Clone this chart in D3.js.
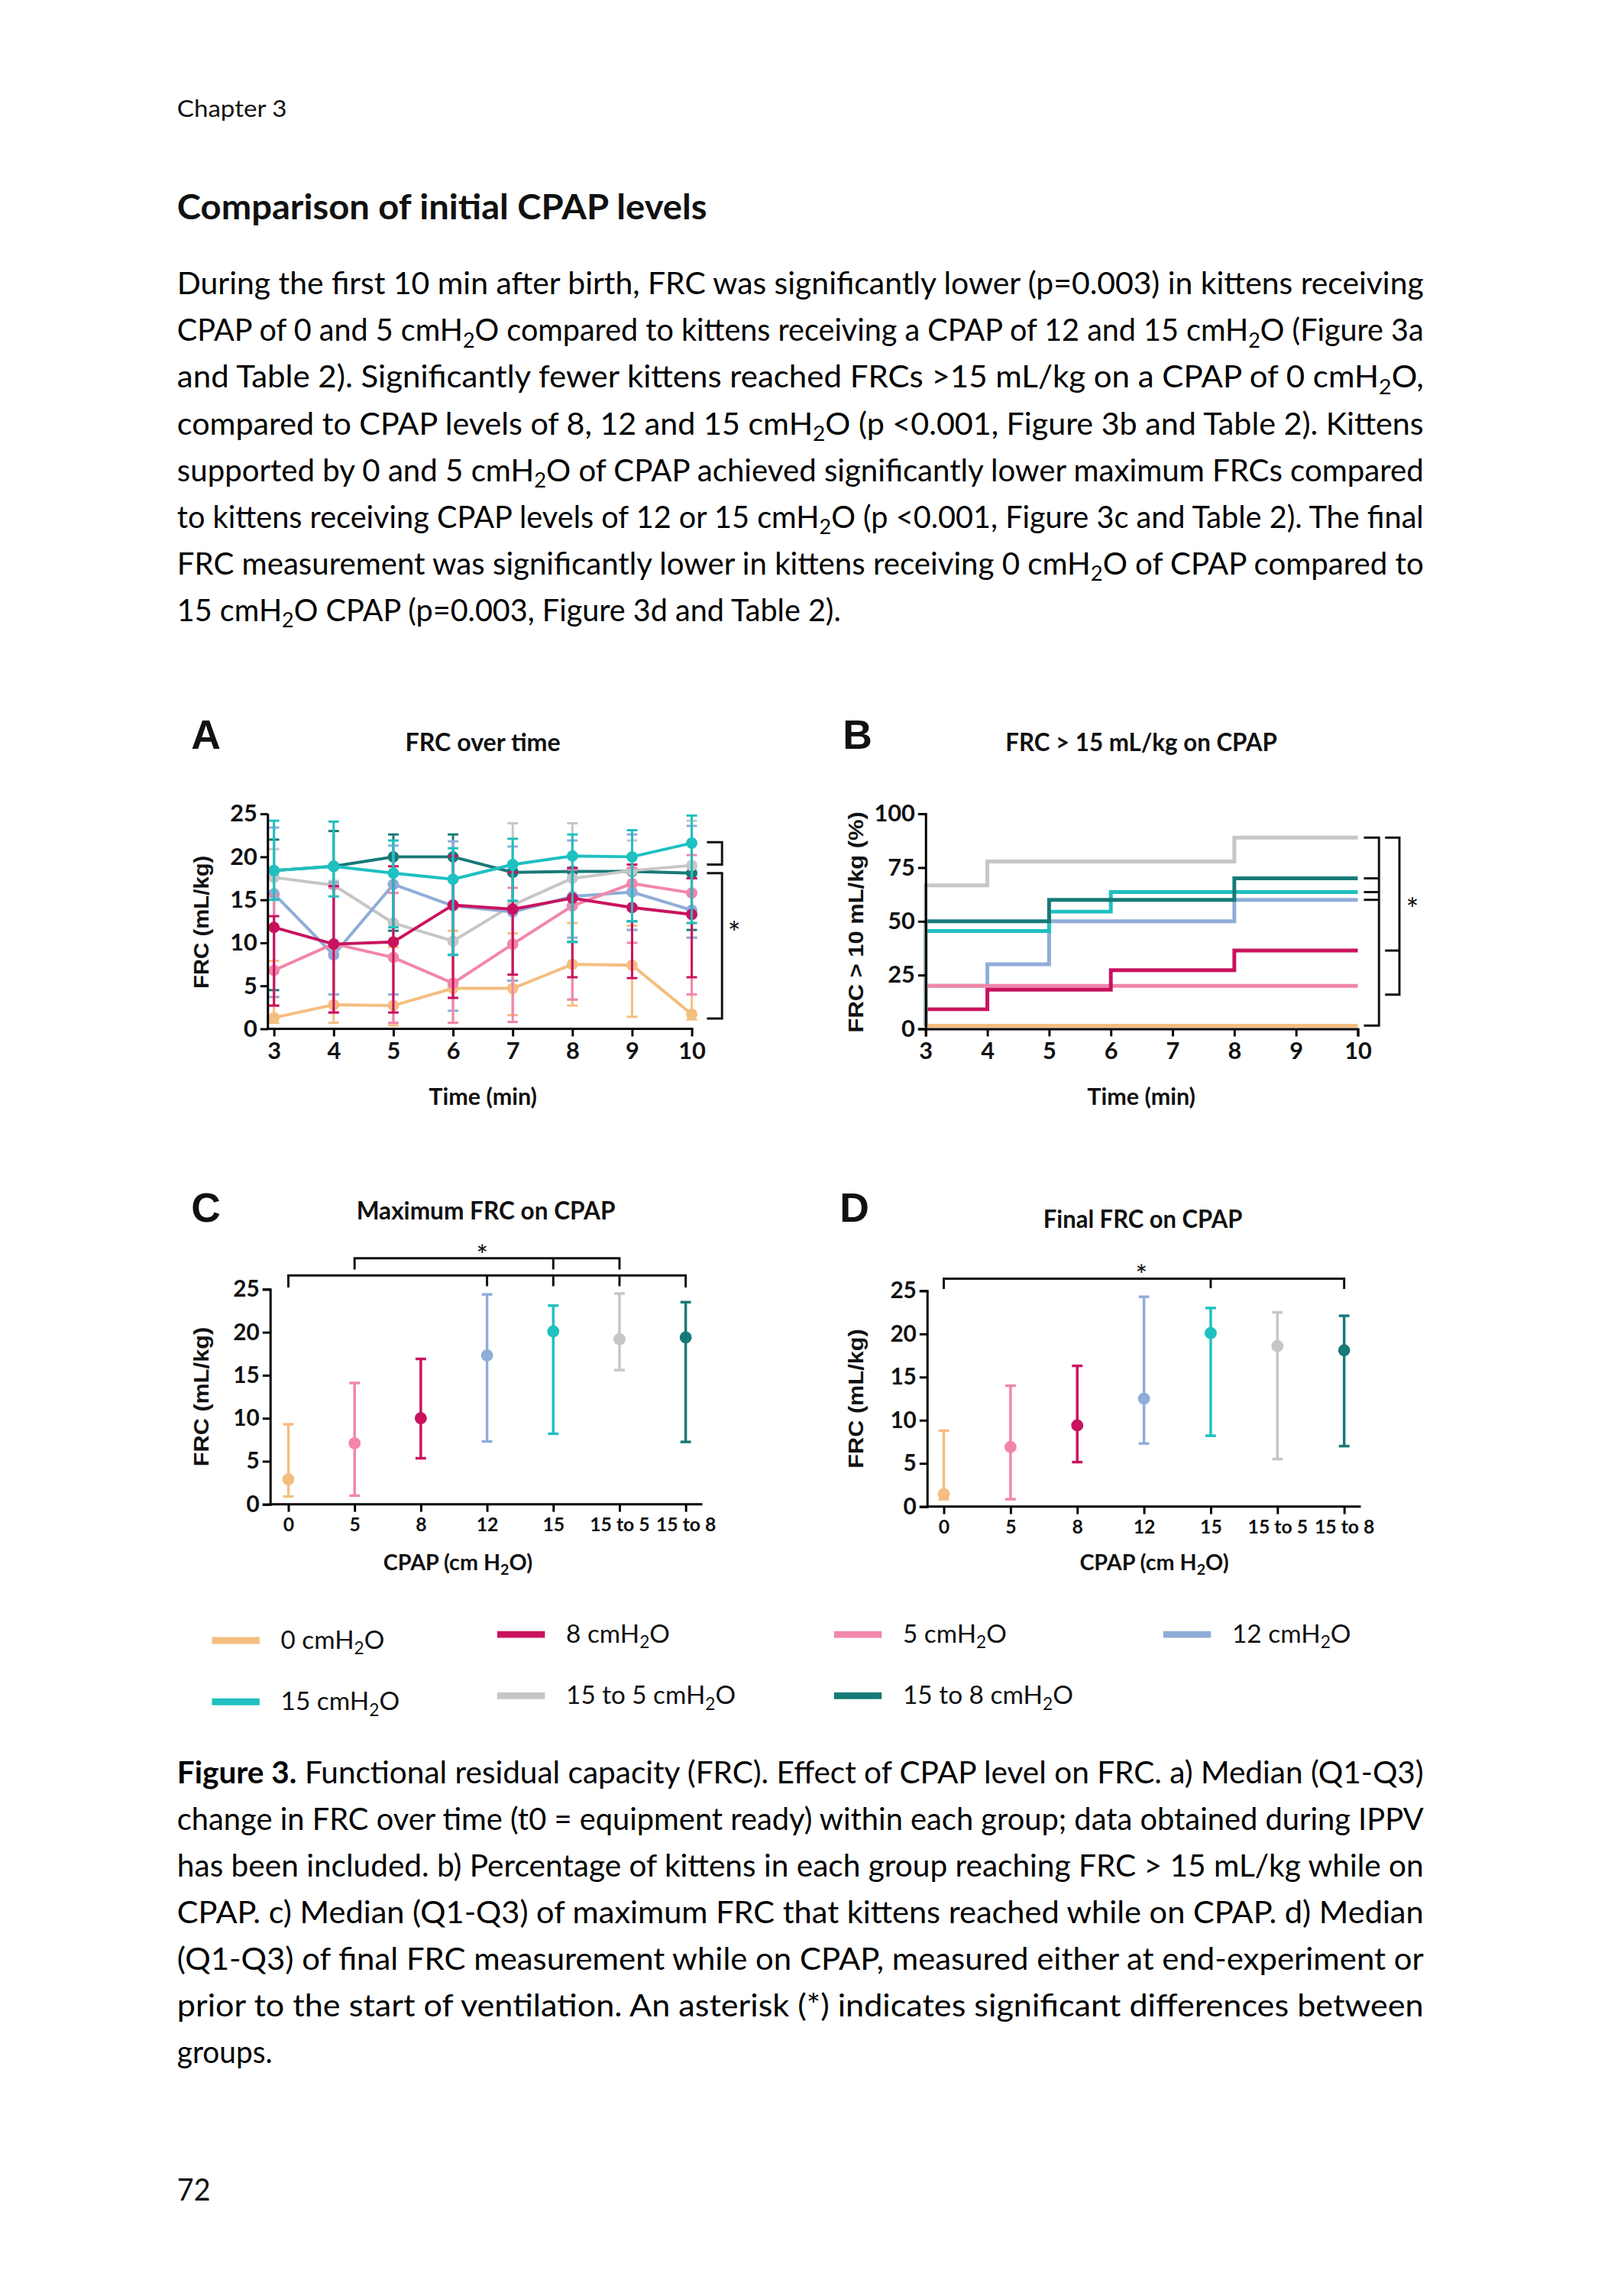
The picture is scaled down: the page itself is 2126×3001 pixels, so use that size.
<!DOCTYPE html>
<html><head><meta charset="utf-8">
<script src="https://cdn.jsdelivr.net/npm/d3@7/dist/d3.min.js"></script>
<style>html,body{margin:0;padding:0;background:#fff}svg{display:block}text{white-space:pre}</style>
</head><body>
<svg id="page" width="2126" height="3001"></svg>
<script>
// ---------------- DATA ----------------
const groupNames = ["0 cmH₂O", "5 cmH₂O", "8 cmH₂O", "12 cmH₂O", "15 cmH₂O", "15 to 5 cmH₂O", "15 to 8 cmH₂O"];
const groupColors = ["#F4BE80", "#F286AA", "#C9125F", "#8FADD7", "#1FC0C0", "#C6C6C6", "#177A78"];
const categoryLabels = ["0", "5", "8", "12", "15", "15 to 5", "15 to 8"];

// Panel A: FRC over time (median, Q1, Q3) per group
const timeMin = [3, 4, 5, 6, 7, 8, 9, 10];
const aMed0   = [1.3, 2.8, 2.7, 4.7, 4.7, 7.5, 7.4, 1.7];
const aMed5   = [6.8, 9.9, 8.3, 5.3, 9.85, 14.3, 16.9, 15.8];
const aMed8   = [11.8, 9.85, 10.1, 14.4, 13.9, 15.2, 14.1, 13.3];
const aMed12  = [15.7, 8.6, 16.8, 14.3, 13.6, 15.4, 15.9, 13.8];
const aMed15  = [18.4, 18.9, 18.1, 17.4, 19.1, 20.1, 20.0, 21.6];
const aMed155 = [17.6, 16.7, 12.3, 10.2, 14.4, 17.5, 18.4, 19.0];
const aMed158 = [18.4, 18.9, 20.0, 20.0, 18.2, 18.3, 18.3, 18.1];
const aQ1_0   = [0.7, 0.7, 0.4, 0.7, 1.6, 2.7, 1.4, 1.1];
const aQ3_0   = [7.9, 9.5, 9.5, 11.4, 11.1, 12.3, 12.0, 12.3];
const aQ1_5   = [2.7, 1.9, 0.7, 0.7, 0.8, 3.4, 10.0, 4.0];
const aQ3_5   = [15.5, 16.4, 15.8, 14.0, 16.4, 18.5, 18.7, 20.2];
const aQ1_8   = [2.7, 1.9, 1.9, 3.6, 6.3, 6.0, 5.9, 6.0];
const aQ3_8   = [13.1, 16.6, 18.9, 20.1, 18.2, 18.7, 19.1, 17.5];
const aQ1_12  = [3.7, 4.0, 4.0, 2.1, 5.6, 10.6, 11.5, 10.6];
const aQ3_12  = [23.4, 17.0, 21.3, 21.8, 21.2, 21.9, 22.6, 23.6];
const aQ1_15  = [15.0, 15.4, 11.8, 8.6, 14.9, 10.1, 12.5, 12.3];
const aQ3_15  = [24.2, 24.1, 21.9, 21.0, 22.1, 22.6, 23.1, 24.8];
const aQ1_155 = [3.7, 3.0, 4.0, 3.6, 1.6, 3.4, 11.5, 10.6];
const aQ3_155 = [20.9, 17.2, 15.8, 14.5, 23.9, 23.9, 21.9, 24.2];
const aQ1_158 = [4.5, 4.0, 11.4, 8.6, 5.6, 10.1, 12.5, 11.5];
const aQ3_158 = [22.0, 23.0, 22.6, 22.6, 18.5, 18.7, 18.5, 17.5];
const aYTicks = [0, 5, 10, 15, 20, 25];

// Panel B: % of kittens with FRC > 15 mL/kg (step changes: [time, percent])
const b0   = [[3, 0], [10, 0]];
const b5   = [[3, 20], [10, 20]];
const b8   = [[3, 9.1], [4, 18.2], [6, 27.3], [8, 36.4], [10, 36.4]];
const b12  = [[3, 20], [4, 30], [5, 50], [8, 60], [10, 60]];
const b15  = [[3, 45.5], [5, 54.5], [6, 63.6], [10, 63.6]];
const b155 = [[3, 66.7], [4, 77.8], [8, 88.9], [10, 88.9]];
const b158 = [[3, 50], [5, 60], [8, 70], [10, 70]];
const bYTicks = [0, 25, 50, 75, 100];

// Panel C: maximum FRC on CPAP (median, Q1, Q3)
const cMedian = [2.9, 7.1, 10.0, 17.3, 20.1, 19.2, 19.4];
const cQ1     = [0.9, 1.0, 5.35, 7.3, 8.2, 15.6, 7.25];
const cQ3     = [9.3, 14.1, 16.9, 24.4, 23.1, 24.5, 23.5];

// Panel D: final FRC on CPAP (median, Q1, Q3)
const dMedian = [1.45, 6.9, 9.4, 12.5, 20.1, 18.6, 18.1];
const dQ1     = [0.85, 0.85, 5.15, 7.3, 8.2, 5.5, 7.0];
const dQ3     = [8.8, 14.0, 16.3, 24.3, 23.0, 22.5, 22.1];

// Text
const paragraphLines = [
  "During the first 10 min after birth, FRC was significantly lower (p=0.003) in kittens receiving",
  "CPAP of 0 and 5 cmH₂O compared to kittens receiving a CPAP of 12 and 15 cmH₂O (Figure 3a",
  "and Table 2). Significantly fewer kittens reached FRCs >15 mL/kg on a CPAP of 0 cmH₂O,",
  "compared to CPAP levels of 8, 12 and 15 cmH₂O (p <0.001, Figure 3b and Table 2). Kittens",
  "supported by 0 and 5 cmH₂O of CPAP achieved significantly lower maximum FRCs compared",
  "to kittens receiving CPAP levels of 12 or 15 cmH₂O (p <0.001, Figure 3c and Table 2). The final",
  "FRC measurement was significantly lower in kittens receiving 0 cmH₂O of CPAP compared to",
  "15 cmH₂O CPAP (p=0.003, Figure 3d and Table 2)."
];
const captionLines = [
  "**Figure 3.** Functional residual capacity (FRC). Effect of CPAP level on FRC. a) Median (Q1-Q3)",
  "change in FRC over time (t0 = equipment ready) within each group; data obtained during IPPV",
  "has been included. b) Percentage of kittens in each group reaching FRC > 15 mL/kg while on",
  "CPAP. c) Median (Q1-Q3) of maximum FRC that kittens reached while on CPAP. d) Median",
  "(Q1-Q3) of final FRC measurement while on CPAP, measured either at end-experiment or",
  "prior to the start of ventilation. An asterisk (*) indicates significant differences between",
  "groups."
];

// ---------------- RENDER ----------------
const BODY = "Lato, 'Open Sans', sans-serif";
const ARIAL = "'Liberation Sans', Arial, sans-serif";
const svg = d3.select("#page").append("g").attr("transform", "scale(0.9908)");

function rich(g, str, x, y, size, opts = {}) {
  const t = g.append("text").attr("x", x).attr("y", y)
    .attr("font-size", size).attr("font-family", opts.family || BODY).attr("fill", opts.fill || "#111");
  if (opts.weight) t.attr("font-weight", opts.weight);
  if (opts.anchor) t.attr("text-anchor", opts.anchor);
  if (opts.transform) t.attr("transform", opts.transform);
  const parts = str.split(/(₂|\*\*[^*]+\*\*)/).filter(s => s !== "");
  const sh = size * 0.22;
  let shifted = false;
  parts.forEach(p => {
    if (p === "₂") {
      t.append("tspan").attr("dy", sh).attr("font-size", size * 0.68).text("2");
      shifted = true;
    } else {
      const ts = t.append("tspan");
      if (shifted) { ts.attr("dy", -sh); shifted = false; }
      if (p.startsWith("**")) ts.attr("font-weight", "bold").text(p.slice(2, -2));
      else ts.text(p);
    }
  });
  if (opts.len) t.attr("textLength", opts.len).attr("lengthAdjust", "spacingAndGlyphs");
  return t;
}

// Header & paragraph
rich(svg, "Chapter 3", 234, 154, 31, {len: 145});
rich(svg, "Comparison of initial CPAP levels", 234, 290, 46, {weight: "bold", len: 700});
const lineH = 61.6;
paragraphLines.forEach((l, i) => {
  const last = i === paragraphLines.length - 1;
  rich(svg, l, 234, 389 + i * lineH, 40, {len: last ? 877 : 1647, fill: "#000"});
});
captionLines.forEach((l, i) => {
  const last = i === captionLines.length - 1;
  rich(svg, l, 234, 2356 + i * 61.5, 40, {len: last ? 126 : 1647, fill: "#000"});
});
rich(svg, "72", 234, 2907, 40, {len: 44});

function styleAxis(g, size) {
  g.selectAll("path,line").attr("stroke", "#000").attr("stroke-width", 3);
  g.selectAll("text").attr("font-family", BODY).attr("font-size", size || 31).attr("font-weight", "bold").attr("fill", "#111");
}

// -------- Panel A --------
const aMeds = [aMed0, aMed5, aMed8, aMed12, aMed15, aMed155, aMed158];
const aQ1s = [aQ1_0, aQ1_5, aQ1_8, aQ1_12, aQ1_15, aQ1_155, aQ1_158];
const aQ3s = [aQ3_0, aQ3_5, aQ3_8, aQ3_12, aQ3_15, aQ3_155, aQ3_158];
const xA = d3.scaleLinear().domain([3, 10]).range([362, 914]);
const yA = d3.scaleLinear().domain([0, 25]).range([1359, 1075]);
const gA = svg.append("g");
rich(gA, "A", 272, 989, 54, {family: ARIAL, weight: "bold", anchor: "middle"});
rich(gA, "FRC over time", 638, 992, 32, {weight: "bold", anchor: "middle", len: 205});
const drawOrderA = [6, 5, 3, 0, 1, 2, 4];
drawOrderA.forEach(gi => {
  const col = groupColors[gi];
  const g = gA.append("g");
  timeMin.forEach((t, i) => {
    const x = xA(t);
    g.append("line").attr("x1", x).attr("x2", x).attr("y1", yA(aQ1s[gi][i])).attr("y2", yA(aQ3s[gi][i]))
      .attr("stroke", col).attr("stroke-width", 3);
    [aQ1s[gi][i], aQ3s[gi][i]].forEach(v => g.append("line").attr("x1", x - 7).attr("x2", x + 7)
      .attr("y1", yA(v)).attr("y2", yA(v)).attr("stroke", col).attr("stroke-width", 3));
  });
  g.append("path").datum(aMeds[gi]).attr("fill", "none").attr("stroke", col).attr("stroke-width", 4)
    .attr("d", d3.line().x((d, i) => xA(timeMin[i])).y(d => yA(d)));
  g.selectAll("circle").data(aMeds[gi]).join("circle").attr("cx", (d, i) => xA(timeMin[i])).attr("cy", d => yA(d))
    .attr("r", 7.5).attr("fill", col);
});
const axAy = gA.append("g").attr("transform", "translate(354,0)")
  .call(d3.axisLeft(yA).tickValues(aYTicks).tickSize(10).tickPadding(4).tickFormat(d3.format("d")));
axAy.select(".domain").remove();
gA.append("line").attr("x1", 354).attr("x2", 354).attr("y1", yA(0)).attr("y2", yA(25)).attr("stroke", "#000").attr("stroke-width", 3);
styleAxis(axAy);
const axAx = gA.append("g").attr("transform", "translate(0,1359)")
  .call(d3.axisBottom(xA).tickValues(timeMin).tickSize(10).tickPadding(8).tickFormat(d3.format("d")));
axAx.select(".domain").remove();
gA.append("line").attr("x1", 353).attr("x2", 916).attr("y1", 1359).attr("y2", 1359).attr("stroke", "#000").attr("stroke-width", 3);
styleAxis(axAx);
rich(gA, "FRC (mL/kg)", 0, 0, 28, {family: ARIAL, weight: "bold", anchor: "middle", len: 176, transform: "translate(276,1218) rotate(-90)"});
rich(gA, "Time (min)", 638, 1459, 31, {weight: "bold", anchor: "middle", len: 143});
// significance brackets A
function bracket(g, xv, xt, y1, y2) {
  g.append("path").attr("d", `M${xt},${y1}H${xv}V${y2}H${xt}`).attr("fill", "none").attr("stroke", "#111").attr("stroke-width", 3);
}
bracket(gA, 954, 934, yA(21.7), yA(19.1));
bracket(gA, 954, 934, yA(18.1), yA(1.2));
rich(gA, "*", 970, yA(11.4) + 18, 40, {anchor: "middle"});

// -------- Panel B --------
const bSeries = [b0, b5, b8, b12, b15, b155, b158];
const xB = d3.scaleLinear().domain([3, 10]).range([1223, 1794]);
const yB = d3.scaleLinear().domain([0, 100]).range([1359, 1075]);
const gB = svg.append("g");
rich(gB, "B", 1133, 989, 54, {family: ARIAL, weight: "bold", anchor: "middle"});
rich(gB, "FRC > 15 mL/kg on CPAP", 1508, 992, 32, {weight: "bold", anchor: "middle", len: 359});
const stepLine = d3.line().curve(d3.curveStepAfter).x(d => xB(d[0])).y(d => Math.min(yB(d[1]), yB(0) - 4));
[0, 3, 1, 2, 4, 6, 5].forEach(gi => {
  gB.append("path").datum([[3, 0], ...bSeries[gi]]).attr("fill", "none").attr("stroke", groupColors[gi])
    .attr("stroke-width", 5).attr("d", stepLine);
});
const axBy = gB.append("g").attr("transform", "translate(1223,0)")
  .call(d3.axisLeft(yB).tickValues(bYTicks).tickSize(10).tickPadding(4).tickFormat(d3.format("d")));
styleAxis(axBy);
const axBx = gB.append("g").attr("transform", "translate(0,1359)")
  .call(d3.axisBottom(xB).tickValues(timeMin).tickSize(10).tickPadding(8).tickFormat(d3.format("d")));
styleAxis(axBx);
rich(gB, "FRC > 10 mL/kg (%)", 0, 0, 28, {family: ARIAL, weight: "bold", anchor: "middle", len: 292, transform: "translate(1140,1218) rotate(-90)"});
rich(gB, "Time (min)", 1508, 1459, 31, {weight: "bold", anchor: "middle", len: 143});
// brackets B
gB.append("path").attr("d", `M1802,${yB(88.9)}H1822V${yB(1.5)}H1802`).attr("fill", "none").attr("stroke", "#111").attr("stroke-width", 3);
[70, 63.6, 60].forEach(v => gB.append("line").attr("x1", 1802).attr("x2", 1822).attr("y1", yB(v)).attr("y2", yB(v)).attr("stroke", "#111").attr("stroke-width", 3));
gB.append("path").attr("d", `M1830,${yB(88.9)}H1849V${yB(15.9)}H1830`).attr("fill", "none").attr("stroke", "#111").attr("stroke-width", 3);
gB.append("line").attr("x1", 1830).attr("x2", 1849).attr("y1", yB(36.4)).attr("y2", yB(36.4)).attr("stroke", "#111").attr("stroke-width", 3);
rich(gB, "*", 1866, yB(56.7) + 18, 40, {anchor: "middle"});

// -------- Panels C & D --------
function catPanel(letter, lx, title, tx, tlen, yaxisX, range, yBottom, yTop, med, q1, q3, ylabX, xlabX, brackets, star) {
  const g = svg.append("g");
  const x = d3.scalePoint().domain(categoryLabels).range(range);
  const y = d3.scaleLinear().domain([0, 25]).range([yBottom, yTop]);
  rich(g, letter, lx, 1614, 54, {family: ARIAL, weight: "bold", anchor: "middle"});
  rich(g, title, tx, letter === "C" ? 1611 : 1622, 32, {weight: "bold", anchor: "middle", len: tlen});
  categoryLabels.forEach((c, i) => {
    const cx = x(c), col = groupColors[i];
    g.append("line").attr("x1", cx).attr("x2", cx).attr("y1", y(q1[i])).attr("y2", y(q3[i])).attr("stroke", col).attr("stroke-width", 3.5);
    [q1[i], q3[i]].forEach(v => g.append("line").attr("x1", cx - 7).attr("x2", cx + 7).attr("y1", y(v)).attr("y2", y(v)).attr("stroke", col).attr("stroke-width", 3.5));
    g.append("circle").attr("cx", cx).attr("cy", y(med[i])).attr("r", 8).attr("fill", col);
  });
  const ay = g.append("g").attr("transform", `translate(${yaxisX},0)`)
    .call(d3.axisLeft(y).tickValues(aYTicks).tickSize(10).tickPadding(4));
  styleAxis(ay, 30);
  const ax = g.append("g").attr("transform", `translate(0,${yBottom})`)
    .call(d3.axisBottom(x).tickSize(10).tickPadding(8));
  ax.select(".domain").remove();
  g.append("line").attr("x1", yaxisX - 1).attr("x2", range[1] + 22).attr("y1", yBottom).attr("y2", yBottom).attr("stroke", "#000").attr("stroke-width", 3);
  styleAxis(ax, 25);
  rich(g, "FRC (mL/kg)", 0, 0, 28, {family: ARIAL, weight: "bold", anchor: "middle", len: 184, transform: `translate(${ylabX},${(yBottom + yTop) / 2}) rotate(-90)`});
  rich(g, "CPAP (cm H₂O)", xlabX, 2074, 29, {weight: "bold", anchor: "middle"});
  brackets.forEach(b => {
    const yb = y(b.level);
    const x0 = x(b.from), x1 = x(b.to);
    g.append("path").attr("d", `M${x0},${y(b.endDrop)}V${yb}H${x1}V${y(b.endDrop)}`).attr("fill", "none").attr("stroke", "#111").attr("stroke-width", 3);
    b.ticks.forEach(t => g.append("line").attr("x1", x(t)).attr("x2", x(t)).attr("y1", yb).attr("y2", y(b.tickDrop)).attr("stroke", "#111").attr("stroke-width", 3));
  });
  rich(g, "*", star[0], y(star[1]) + 18, 38, {anchor: "middle"});
}
catPanel("C", 272, "Maximum FRC on CPAP", 642, 342, 357, [381, 906], 1987, 1703, cMedian, cQ1, cQ3, 276, 605,
  [{from: "0", to: "15 to 8", level: 26.6, endDrop: 25.2, ticks: ["12", "15", "15 to 5"], tickDrop: 25.35},
   {from: "5", to: "15 to 5", level: 28.6, endDrop: 27.3, ticks: ["15"], tickDrop: 27.3}], [637, 29.4]);
catPanel("D", 1129, "Final FRC on CPAP", 1510, 263, 1225, [1247, 1776], 1990, 1705, dMedian, dQ1, dQ3, 1140, 1525,
  [{from: "0", to: "15 to 8", level: 26.4, endDrop: 25.2, ticks: ["15"], tickDrop: 25.3}], [1508, 27.2]);

// -------- Legend --------
const legendPos = [
  [280, 2167], [1102, 2159], [657, 2159], [1537, 2159], [280, 2248], [657, 2240], [1102, 2240]
];
const legendLen = [137, 137, 137, 157, 157, 224, 225];
groupNames.forEach((n, i) => {
  const [lx, ly] = legendPos[i];
  svg.append("line").attr("x1", lx).attr("x2", lx + 63).attr("y1", ly).attr("y2", ly)
    .attr("stroke", groupColors[i]).attr("stroke-width", 9);
  rich(svg, n, lx + 91, ly + 11, 34, {len: legendLen[i]});
});
</script>
</body></html>
